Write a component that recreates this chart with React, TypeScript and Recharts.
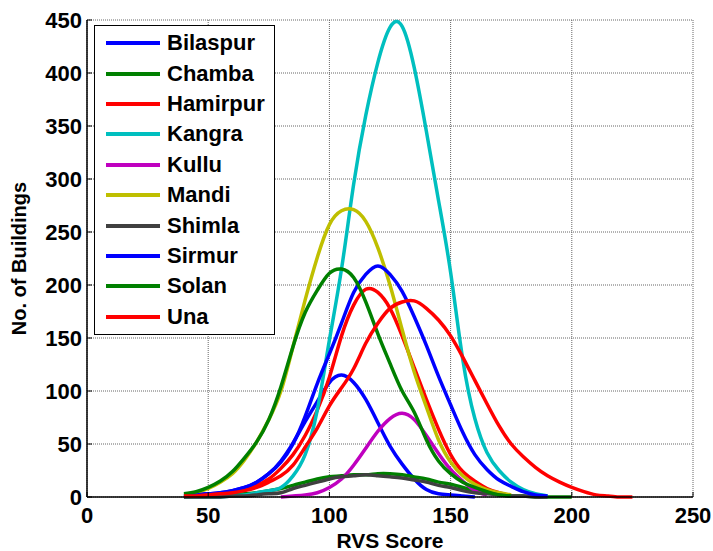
import { LineChart, Line, XAxis, YAxis, CartesianGrid, Legend } from "recharts";

// RVS score bins (x) shared by every district curve
const SCORES = [
  40, 45, 50, 55, 60, 65, 70, 75, 80, 85, 90, 95, 100, 105, 110, 115, 120, 125, 130,
  135, 140, 145, 150, 155, 160, 165, 170, 175, 180, 185, 190, 195, 200, 205, 210, 215,
  220, 225,
];

// number of buildings per score (null = curve not drawn there)
const BILASPUR = [1, 2, 3, 4, 6, 9, 14, 22, 34, 51, 71, 90, 108, 115, 108, 92, 70, 48, 31, 17, 7, 3, 2, 1, 0];
const CHAMBA = [0, 1, 1, 1, 2, 3, 4, 6, 8, 11, 14, 17, 19, 20, 21, 21, 22, 22, 21, 19, 17, 14, 12, 9, 6, 4, 2, 1, 1, 0, 0, 0, 0];
const HAMIRPUR = [1, 1, 2, 3, 5, 7, 11, 17, 27, 40, 58, 82, 113, 152, 181, 196, 193, 178, 152, 122, 92, 64, 40, 24, 15, 8, 4, 1];
const KANGRA = [0, 0, 0, 0, 1, 2, 4, 6, 9, 20, 40, 82, 148, 215, 295, 360, 410, 443, 444, 405, 345, 280, 212, 130, 74, 42, 25, 14, 7, 3, 1];
const KULLU = [null, null, null, null, null, null, null, null, 0, 1, 2, 4, 9, 17, 30, 46, 62, 74, 79, 73, 58, 41, 26, 15, 6, 2];
const MANDI = [2, 4, 8, 14, 22, 35, 52, 73, 100, 142, 186, 226, 257, 270, 271, 260, 235, 200, 158, 118, 85, 54, 33, 20, 12, 7, 4, 2];
const SHIMLA = [0, 0, 0, 0, 1, 1, 2, 3, 4, 8, 11, 14, 17, 19, 20, 21, 20, 19, 18, 16, 14, 11, 9, 6, 4, 3, 2, 1, 1, 0, 0];
const SIRMUR = [1, 2, 3, 4, 6, 9, 14, 22, 33, 50, 76, 107, 135, 164, 193, 210, 218, 210, 194, 170, 143, 114, 87, 61, 40, 26, 16, 10, 5, 2, 1];
const SOLAN = [3, 5, 9, 15, 24, 37, 52, 73, 104, 142, 174, 195, 211, 215, 207, 184, 154, 126, 100, 80, 54, 34, 22, 14, 9, 5, 2, 1];
const UNA = [1, 1, 2, 3, 4, 6, 9, 14, 20, 30, 47, 65, 86, 103, 121, 145, 164, 178, 184, 185, 178, 167, 152, 132, 110, 88, 67, 50, 38, 28, 20, 14, 9, 5, 2, 1, 0, 0];

const X_TICKS = [0, 50, 100, 150, 200, 250];
const Y_TICKS = [0, 50, 100, 150, 200, 250, 300, 350, 400, 450];

const DISTRICTS = [
  { name: "Bilaspur", color: "#0000ff", values: BILASPUR },
  { name: "Chamba", color: "#008000", values: CHAMBA },
  { name: "Hamirpur", color: "#ff0000", values: HAMIRPUR },
  { name: "Kangra", color: "#00bfbf", values: KANGRA },
  { name: "Kullu", color: "#bf00bf", values: KULLU },
  { name: "Mandi", color: "#bfbf00", values: MANDI },
  { name: "Shimla", color: "#404040", values: SHIMLA },
  { name: "Sirmur", color: "#0000ff", values: SIRMUR },
  { name: "Solan", color: "#008000", values: SOLAN },
  { name: "Una", color: "#ff0000", values: UNA },
];

const FONT = "'Liberation Sans', Arial, sans-serif";

const rows = SCORES.map((score, i) => {
  const row: Record<string, number | null> = { score };
  for (const d of DISTRICTS) row[d.name] = d.values[i] ?? null;
  return row;
});

function LegendBox({ payload }: { payload?: any[] }) {
  return (
    <div
      style={{
        width: 181,
        boxSizing: "border-box",
        border: "1.5px solid #000",
        background: "#fff",
        padding: "2px 8px 2px 11px",
        fontFamily: FONT,
        fontWeight: "bold",
        fontSize: 22,
        color: "#000",
      }}
    >
      {(payload ?? []).map((e) => (
        <div key={e.value} style={{ display: "flex", alignItems: "center", height: 30.4 }}>
          <span style={{ display: "inline-block", width: 54, height: 4, background: e.color, marginRight: 7 }} />
          <span>{e.value}</span>
        </div>
      ))}
    </div>
  );
}

const tickStyle = { fill: "#000", fontSize: 22, fontWeight: "bold", fontFamily: FONT };
const axisLine = { stroke: "#000", strokeWidth: 1.5 };
const tickLine = { stroke: "#000", strokeWidth: 1 };

export default function App() {
  return (
    <div style={{ position: "absolute", left: 0, top: 0, width: 713, height: 551, background: "#fff" }}>
      <LineChart width={713} height={551} data={rows} margin={{ top: 20, right: 20, bottom: 0, left: 0 }}>
        <CartesianGrid stroke="#666" strokeDasharray="1 1" />
        {/* MATLAB-style inward ticks: negative tickSize, margin pushes labels back out */}
        <XAxis
          dataKey="score"
          type="number"
          domain={[0, 250]}
          ticks={X_TICKS}
          height={54}
          tickLine={tickLine}
          tickSize={-5}
          tickMargin={15}
          tick={tickStyle}
          axisLine={axisLine}
          label={{ value: "RVS Score", position: "insideBottom", offset: 3, fill: "#000", fontSize: 21, fontWeight: "bold", fontFamily: FONT }}
        />
        <YAxis
          type="number"
          domain={[0, 450]}
          ticks={Y_TICKS}
          width={87}
          tickLine={tickLine}
          tickSize={-5}
          tickMargin={10}
          tick={tickStyle}
          axisLine={axisLine}
          label={{
            value: "No. of Buildings",
            angle: -90,
            position: "insideLeft",
            offset: 19,
            fill: "#000",
            fontSize: 20,
            fontWeight: "bold",
            fontFamily: FONT,
            style: { textAnchor: "middle" },
          }}
        />
        <XAxis xAxisId="top" orientation="top" type="number" domain={[0, 250]} ticks={X_TICKS} height={0} tick={false} tickLine={tickLine} tickSize={-5} axisLine={axisLine} />
        <YAxis yAxisId="right" orientation="right" type="number" domain={[0, 450]} ticks={Y_TICKS} width={0} tick={false} tickLine={tickLine} tickSize={-5} axisLine={axisLine} />
        <Legend
          layout="vertical"
          align="center"
          verticalAlign="middle"
          wrapperStyle={{ top: 25, left: 94, width: 181 }}
          content={(props: any) => <LegendBox payload={props.payload} />}
        />
        {DISTRICTS.map((d) => (
          <Line
            key={d.name}
            type="natural"
            dataKey={d.name}
            stroke={d.color}
            strokeWidth={3.5}
            dot={false}
            isAnimationActive={false}
          />
        ))}
      </LineChart>
    </div>
  );
}
